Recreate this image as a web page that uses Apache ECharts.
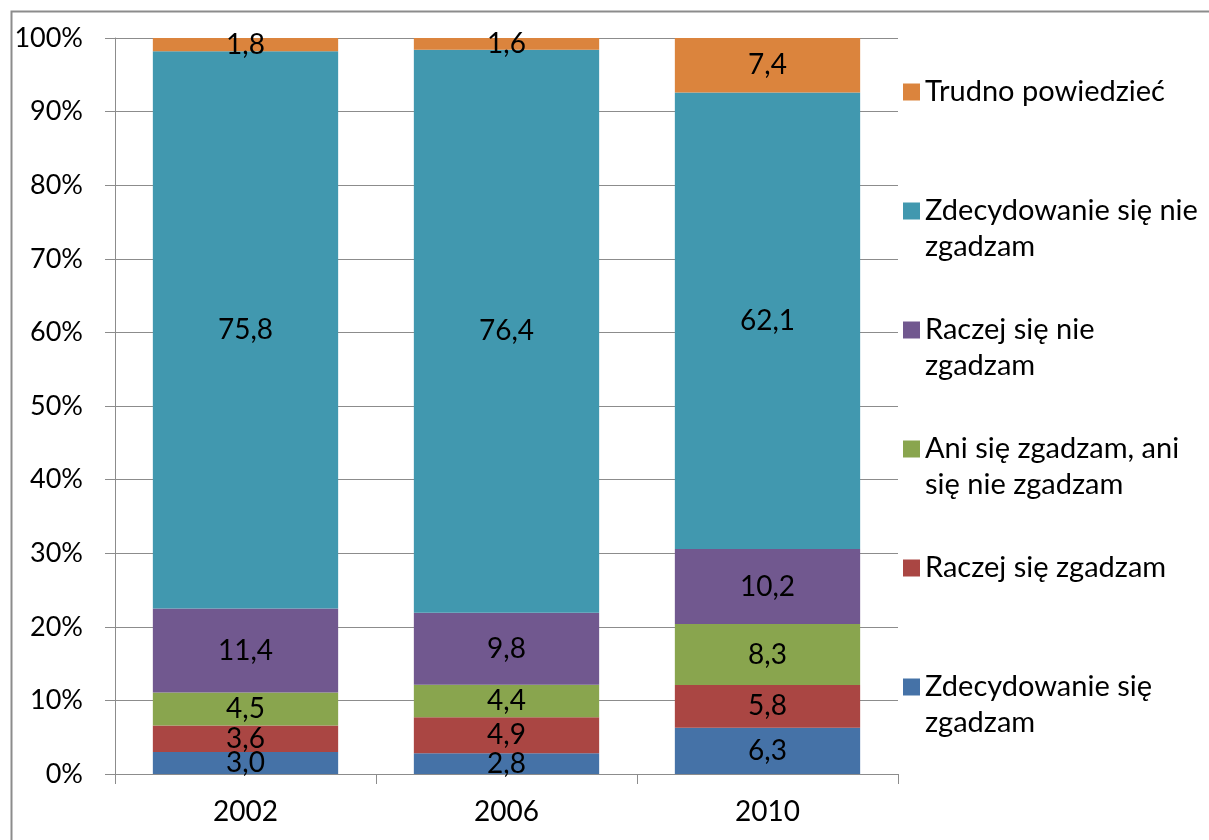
<!DOCTYPE html>
<html>
<head>
<meta charset="utf-8">
<title>Wykres</title>
<script src="https://cdn.jsdelivr.net/npm/echarts@6/dist/echarts.min.js"></script>
<style>
  html, body { margin: 0; padding: 0; background: #fff; }
  #chart { width: 1209px; height: 840px; }
</style>
</head>
<body>
<div id="chart"></div>
<script>
// years on the x axis
const years = ['2002', '2006', '2010']

// series, bottom to top of each stack
const seriesNames = [
  'Zdecydowanie się zgadzam',
  'Raczej się zgadzam',
  'Ani się zgadzam, ani się nie zgadzam',
  'Raczej się nie zgadzam',
  'Zdecydowanie się nie zgadzam',
  'Trudno powiedzieć',
]
const zdecZgadzam = [3.0, 2.8, 6.3]
const raczejZgadzam = [3.6, 4.9, 5.8]
const aniAni = [4.5, 4.4, 8.3]
const raczejNie = [11.4, 9.8, 10.2]
const zdecNie = [75.8, 76.4, 62.1]
const trudno = [1.8, 1.6, 7.4]

const seriesValues = [zdecZgadzam, raczejZgadzam, aniAni, raczejNie, zdecNie, trudno]
const colors = ['#4572A7', '#AA4643', '#89A54E', '#71588F', '#4198AF', '#DB843D']

// legend text split the way it wraps in the original
const legendLines = {
  'Trudno powiedzieć': ['Trudno powiedzieć'],
  'Zdecydowanie się nie zgadzam': ['Zdecydowanie się nie', 'zgadzam'],
  'Raczej się nie zgadzam': ['Raczej się nie', 'zgadzam'],
  'Ani się zgadzam, ani się nie zgadzam': ['Ani się zgadzam, ani', 'się nie zgadzam'],
  'Raczej się zgadzam': ['Raczej się zgadzam'],
  'Zdecydowanie się zgadzam': ['Zdecydowanie się', 'zgadzam'],
}

const FONT = 'Lato, "Open Sans", sans-serif'

// 100% stacked: normalise each year to its total
const totals = years.map((_, i) => seriesValues.reduce((s, arr) => s + arr[i], 0))

const chart = echarts.init(document.getElementById('chart'))

chart.setOption({
  animation: false,
  textStyle: { fontFamily: FONT },
  graphic: [
    {
      type: 'rect',
      left: 9,
      top: 9,
      shape: { width: 1230, height: 860 },
      style: { fill: 'none', stroke: '#8c8c8c', lineWidth: 2 },
      z: 0,
    },
  ],
  grid: {
    left: 115,
    right: 311,
    top: 38,
    bottom: 66,
  },
  legend: {
    orient: 'vertical',
    left: 898,
    top: 33,
    itemWidth: 17,
    itemHeight: 17,
    itemGap: 11,
    icon: 'rect',
    data: seriesNames.slice().reverse(),
    formatter: (name) => {
      const lines = legendLines[name]
      return lines.length === 1 ? ' \n' + lines[0] + '\n ' : ' \n' + lines[0] + '\n' + lines[1]
    },
    textStyle: {
      fontFamily: FONT,
      fontSize: 29,
      lineHeight: 36,
      color: '#000',
    },
  },
  xAxis: {
    type: 'category',
    data: years,
    axisLine: { lineStyle: { color: '#8c8c8c', width: 1 } },
    axisTick: { show: true, length: 10, alignWithLabel: false, lineStyle: { color: '#8c8c8c' } },
    axisLabel: { fontFamily: FONT, fontSize: 28, color: '#000', margin: 24 },
  },
  yAxis: {
    type: 'value',
    min: 0,
    max: 100,
    interval: 10,
    axisLine: { show: true, lineStyle: { color: '#8c8c8c', width: 1 } },
    axisTick: { show: true, length: 10, lineStyle: { color: '#8c8c8c' } },
    axisLabel: {
      formatter: '{value}%',
      fontFamily: FONT,
      fontSize: 27,
      color: '#000',
      margin: 32,
    },
    splitLine: { lineStyle: { color: '#8c8c8c', width: 1 } },
  },
  series: seriesNames.map((name, s) => ({
    name,
    type: 'bar',
    stack: 'total',
    barWidth: '71%',
    itemStyle: { color: colors[s] },
    label: {
      show: true,
      position: 'inside',
      fontFamily: FONT,
      fontSize: 28,
      color: '#000',
      formatter: (p) => seriesValues[s][p.dataIndex].toFixed(1).replace('.', ','),
    },
    data: seriesValues[s].map((v, i) => (v / totals[i]) * 100),
  })),
})
</script>
</body>
</html>
